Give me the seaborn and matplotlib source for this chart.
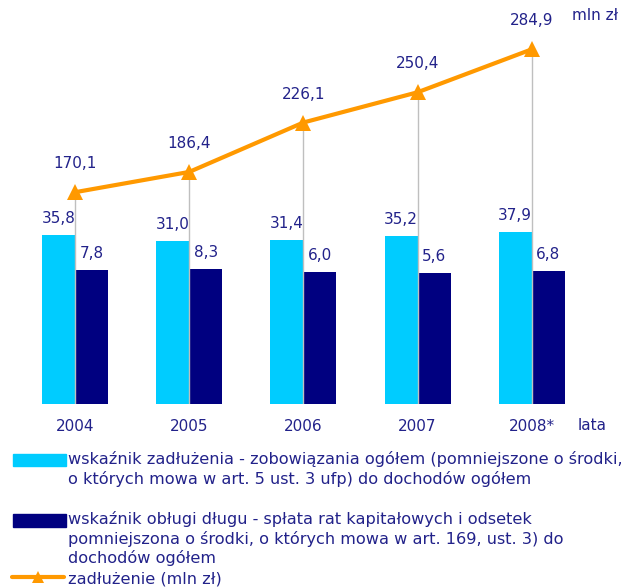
import matplotlib
matplotlib.use("Agg")
import matplotlib.pyplot as plt
import matplotlib.patches as mpatches
import matplotlib.lines as mlines
import numpy as np
import pandas as pd
import seaborn as sns

# values
years = ["2004", "2005", "2006", "2007", "2008*"]
debt_ratio = [35.8, 31.0, 31.4, 35.2, 37.9]       # wskaźnik zadłużenia (%)
service_ratio = [7.8, 8.3, 6.0, 5.6, 6.8]         # wskaźnik obsługi długu (%)
debt = [170.1, 186.4, 226.1, 250.4, 284.9]        # zadłużenie (mln zł)

labels_ratio = [
    "wskaźnik zadłużenia - zobowiązania ogółem (pomniejszone o środki,",
    "o których mowa w art. 5 ust. 3 ufp) do dochodów ogółem",
]
labels_service = [
    "wskaźnik obługi długu - spłata rat kapitałowych i odsetek",
    "pomniejszona o środki, o których mowa w art. 169, ust. 3) do",
    "dochodów ogółem",
]
labels_debt = ["zadłużenie (mln zł)"]

CYAN = "#00CCFF"
NAVY = "#000080"
ORANGE = "#FF9900"
TEXT = "#22228A"
GRID = "#BFBFBF"

# the bar axis floor sits below zero, as in the original chart
BAR_FLOOR = -100
LINE_TOP = 324.5

sns.set_style("white")
plt.rcParams["font.family"] = ["DejaVu Sans"]

W, H = 631, 588
NUM_FS = 11
LEG_FS = 11.6

fig = plt.figure(figsize=(W / 100, H / 100), dpi=100)
ax = fig.add_axes([0, (H - 404) / H, 1, 404 / H])

df = pd.DataFrame({
    "year": years * 2,
    "series": ["ratio"] * 5 + ["service"] * 5,
    "value": debt_ratio + service_ratio,
})
df["span"] = df["value"] - BAR_FLOOR

sns.barplot(data=df, x="year", y="span", hue="series", palette=[CYAN, NAVY],
            width=0.578, gap=0, bottom=BAR_FLOOR, saturation=1, linewidth=0,
            legend=False, ax=ax, errorbar=None)

for cont, vals in zip(ax.containers, [debt_ratio, service_ratio]):
    ax.bar_label(cont, labels=[f"{v:.1f}".replace(".", ",") for v in vals],
                 padding=6.5, color=TEXT, fontsize=NUM_FS)

ax.set_ylim(BAR_FLOOR, LINE_TOP + BAR_FLOOR)

ax2 = ax.twinx()
x = np.arange(len(years))
ax2.vlines(x, 0, debt, color=GRID, lw=1, zorder=1)
sns.lineplot(x=x, y=debt, ax=ax2, color=ORANGE, lw=3, marker="^",
             markersize=12, markeredgewidth=0, zorder=3)
for xi, v in zip(x, debt):
    ax2.annotate(f"{v:.1f}".replace(".", ","), (xi, v), xytext=(0, 20.5),
                 textcoords="offset points", ha="center", va="center",
                 color=TEXT, fontsize=NUM_FS)
ax2.set_ylim(0, LINE_TOP)

for a in (ax, ax2):
    a.set_xlim(-75 / 114.2, (W - 75) / 114.2)
    a.set_yticks([])
    a.set_xlabel("")
    a.set_ylabel("")
    for s in a.spines.values():
        s.set_visible(False)

ax.tick_params(axis="x", length=0, pad=10.5, labelsize=NUM_FS, labelcolor=TEXT)

fig.text(592 / W, 1 - 426 / H, "lata", ha="center", va="center",
         color=TEXT, fontsize=NUM_FS)
fig.text(595 / W, 1 - 15 / H, "mln zł", ha="center", va="center",
         color=TEXT, fontsize=NUM_FS)

# legend drawn by hand to follow the original layout
fig.add_artist(mpatches.Rectangle((13 / W, 1 - 466 / H), 53 / W, 12 / H,
                                  transform=fig.transFigure, color=CYAN))
fig.add_artist(mpatches.Rectangle((13 / W, 1 - 527 / H), 53 / W, 13 / H,
                                  transform=fig.transFigure, color=NAVY))
fig.add_artist(mlines.Line2D([12 / W, 64 / W], [1 - 577 / H] * 2,
                             transform=fig.transFigure, color=ORANGE, lw=3))
fig.add_artist(mlines.Line2D([38 / W], [1 - 577 / H], transform=fig.transFigure,
                             color=ORANGE, marker="^", markersize=8,
                             markeredgewidth=0))

for lines, ys in [(labels_ratio, [459, 479]),
                  (labels_service, [519, 539, 558]),
                  (labels_debt, [579])]:
    for txt, y in zip(lines, ys):
        fig.text(68 / W, 1 - y / H, txt, ha="left", va="center",
                 color=TEXT, fontsize=LEG_FS)

fig.savefig("out.png", dpi=100)
